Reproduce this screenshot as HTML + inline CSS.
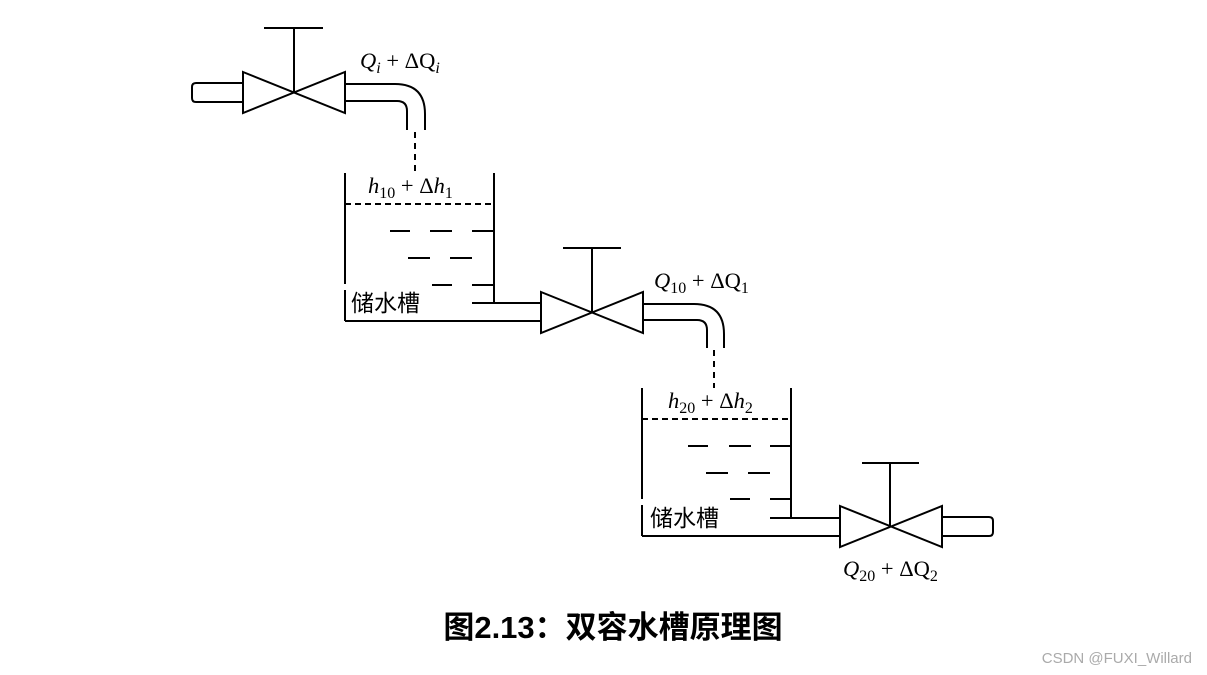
<!DOCTYPE html>
<html><head><meta charset="utf-8"><style>
html,body{margin:0;padding:0;background:#fff;}
svg{display:block}
.m{font-family:"Liberation Serif",serif;font-style:italic;font-size:22.5px;fill:#000}
.n{font-style:normal}
.c{font-family:"Liberation Sans","Noto Sans CJK SC",sans-serif;font-size:23px;fill:#000}
</style></head><body>
<svg width="1207" height="675" viewBox="0 0 1207 675" xmlns="http://www.w3.org/2000/svg">
<g fill="none" stroke="#000" stroke-width="2">
<polygon points="243,72 345,113 345,72 243,113" fill="#fff"/>
<line x1="294" y1="28" x2="294" y2="92"/><line x1="264" y1="28" x2="323" y2="28"/>
<path d="M243,83 H196 Q192,83 192,87 V98 Q192,102 196,102 H243"/>
<path d="M345,84 H395 Q425,84 425,114 V130"/>
<path d="M345,101 H397 Q407,101 407,111 V130"/>
<line x1="415" y1="132" x2="415" y2="172" stroke-dasharray="6,5"/>
<line x1="345" y1="173" x2="345" y2="284"/><line x1="345" y1="290" x2="345" y2="321"/>
<line x1="494" y1="173" x2="494" y2="303"/>
<line x1="345" y1="321" x2="541" y2="321"/>
<line x1="345" y1="204" x2="494" y2="204" stroke-dasharray="6,4"/>
<path d="M390,231h20M430,231h22M472,231h22M408,258h22M450,258h22M432,285h20M472,285h22M472,303h69"/>
<polygon points="541,292 643,333 643,292 541,333" fill="#fff"/>
<line x1="592" y1="248" x2="592" y2="312"/><line x1="563" y1="248" x2="621" y2="248"/>
<path d="M643,304 H694 Q724,304 724,334 V348"/>
<path d="M643,320 H697 Q707,320 707,330 V348"/>
<line x1="714" y1="350" x2="714" y2="388" stroke-dasharray="6,5"/>
<line x1="642" y1="388" x2="642" y2="499"/><line x1="642" y1="505" x2="642" y2="536"/>
<line x1="791" y1="388" x2="791" y2="518"/>
<line x1="642" y1="536" x2="840" y2="536"/>
<line x1="642" y1="419" x2="791" y2="419" stroke-dasharray="6,4"/>
<path d="M688,446h20M729,446h22M770,446h21M706,473h22M748,473h22M730,499h20M770,499h21M770,518h70"/>
<polygon points="840,506 942,547 942,506 840,547" fill="#fff"/>
<line x1="890" y1="463" x2="890" y2="526"/><line x1="862" y1="463" x2="919" y2="463"/>
<path d="M942,517 H989 Q993,517 993,521 V532 Q993,536 989,536 H942"/>
</g>
<text class="m" x="360" y="68">Q<tspan font-size="16" dy="5">i</tspan><tspan class="n" dy="-5"> + ΔQ</tspan><tspan font-size="16" dy="5">i</tspan></text>
<text class="m" x="368" y="193">h<tspan class="n" font-size="16" dy="5">10</tspan><tspan class="n" dy="-5"> + Δ</tspan>h<tspan class="n" font-size="16" dy="5">1</tspan></text>
<text class="m" x="654" y="288">Q<tspan class="n" font-size="16" dy="5">10</tspan><tspan class="n" dy="-5"> + ΔQ</tspan><tspan class="n" font-size="16" dy="5">1</tspan></text>
<text class="m" x="668" y="408">h<tspan class="n" font-size="16" dy="5">20</tspan><tspan class="n" dy="-5"> + Δ</tspan>h<tspan class="n" font-size="16" dy="5">2</tspan></text>
<text class="m" x="843" y="576">Q<tspan class="n" font-size="16" dy="5">20</tspan><tspan class="n" dy="-5"> + ΔQ</tspan><tspan class="n" font-size="16" dy="5">2</tspan></text>
<text class="c" x="351" y="311">储水槽</text>
<text class="c" x="650" y="526">储水槽</text>
<text x="613" y="638" text-anchor="middle" style="font-family:'Liberation Sans','Noto Sans CJK SC',sans-serif;font-size:31px;font-weight:bold">图2.13：双容水槽原理图</text>
<text x="1192" y="663" text-anchor="end" style="font-family:'Liberation Sans',sans-serif;font-size:15px;fill:#aaa">CSDN @FUXI_Willard</text>
</svg>
</body></html>
